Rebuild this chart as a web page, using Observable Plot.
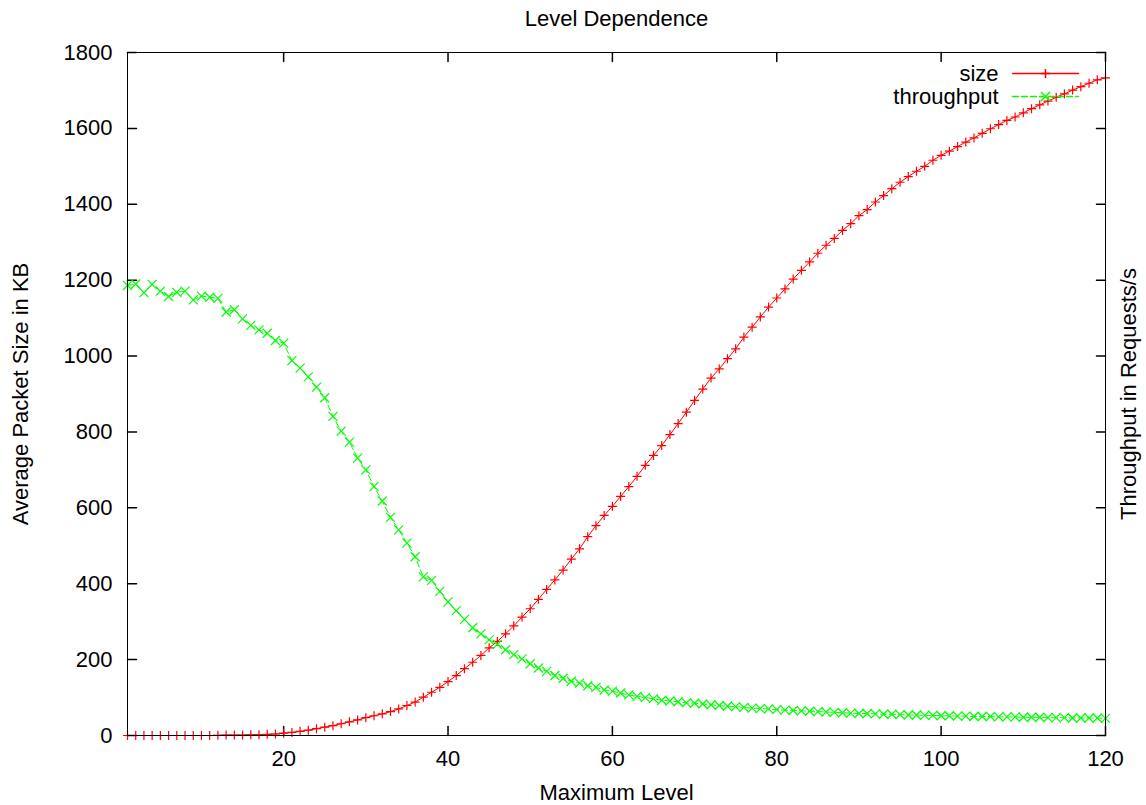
<!DOCTYPE html>
<html><head><meta charset="utf-8">
<script src="https://cdn.jsdelivr.net/npm/d3@7"></script>
<script src="https://cdn.jsdelivr.net/npm/@observablehq/plot@0.6"></script>
<style>body{margin:0;background:#fff} svg{display:block}</style>
</head><body><div id="chart"></div>
<script>
const levels = [1,2,3,4,5,6,7,8,9,10,11,12,13,14,15,16,17,18,19,20,21,22,23,24,25,26,27,28,29,30,
31,32,33,34,35,36,37,38,39,40,41,42,43,44,45,46,47,48,49,50,51,52,53,54,55,56,57,58,59,60,
61,62,63,64,65,66,67,68,69,70,71,72,73,74,75,76,77,78,79,80,81,82,83,84,85,86,87,88,89,90,
91,92,93,94,95,96,97,98,99,100,101,102,103,104,105,106,107,108,109,110,111,112,113,114,115,116,117,118,119,120];

const sizeKB = [0,0,0,0,0,0,0,0,0,0,0,0.5,1,1,1,2,2,3,4,6,
8,11,14,18,22,26,31,36,41,47,52,57,63,70,79,88,101,114,127,142,
158,176,193,211,231,248,268,289,312,334,359,385,410,436,465,492,524,553,580,604,
630,656,683,712,738,764,793,822,852,883,913,942,966,993,1019,1050,1076,1103,1129,1153,
1177,1203,1226,1248,1271,1292,1310,1331,1349,1370,1386,1406,1423,1441,1458,1473,1487,1500,1516,1529,
1540,1552,1564,1575,1587,1599,1610,1621,1630,1641,1652,1662,1672,1682,1691,1701,1710,1719,1728,1733];

const throughput = [1186,1190,1167,1189,1171,1157,1168,1171,1148,1158,1155,1152,1116,1122,1098,1081,1069,1060,1041,1034,
988,968,945,918,890,841,802,773,731,700,656,618,575,542,507,471,418,409,380,352,
329,306,284,268,252,240,226,213,202,189,178,169,158,151,143,138,131,127,120,117,
112,107,103,100,97,93,91,89,86,85,83,81,79,77,76,74,72,71,70,68,
67,66,65,64,63,62,61,60,59,58,58,57,56,56,55,54,54,53,53,52,
52,51,51,50,50,50,49,49,49,48,48,48,47,47,47,46,46,46,46,45];

const xTicks = [20,40,60,80,100,120];
const yTicks = [0,200,400,600,800,1000,1200,1400,1600,1800];
const seriesNames = ["size","throughput"];
const titleText = "Level Dependence";
const xLabel = "Maximum Level";
const yLabel = "Average Packet Size in KB";
const y2Label = "Throughput in Requests/s";

const rows = levels.map((l,i)=>({level:l, size:sizeKB[i], throughput:throughput[i]}));

const RED = "#ff0000", GREEN = "#00ff00";
const plusSym = {draw(c){const r=4.5; c.moveTo(-r,0);c.lineTo(r,0);c.moveTo(0,-r);c.lineTo(0,r);}};
const timesSym = {draw(c){const r=4.5; c.moveTo(-r,-r);c.lineTo(r,r);c.moveTo(-r,r);c.lineTo(r,-r);}};
const tickShape = {draw(c,l){c.moveTo(0,0); c.lineTo(0,-l);}};
const lineShape = {draw(c,l){c.moveTo(0,0); c.lineTo(0,-l);}};
const TL = 9;
const FONT = "Liberation Sans, Arial, Helvetica, sans-serif";

const chart = Plot.plot({
  width: 1146, height: 805,
  marginLeft: 127, marginRight: 41, marginTop: 52, marginBottom: 70,
  style: {fontFamily: FONT, fontSize: "22px", background: "#fff", color: "#000"},
  x: {domain: [1,120]},
  y: {domain: [0,1800]},
  marks: [
    Plot.axisX({ticks: xTicks, tickSize: 0, tickPadding: 15, tickFormat: d3.format("d"), label: null}),
    Plot.axisY({ticks: yTicks, tickSize: 0, tickPadding: 15, tickFormat: d3.format("d"), label: null}),
    // inward ticks on all four sides
    Plot.vector(xTicks, {x: d=>d, y: 0, length: TL, rotate: 0, anchor: "start", shape: tickShape, stroke: "#000"}),
    Plot.vector(xTicks, {x: d=>d, y: 1800, length: TL, rotate: 180, anchor: "start", shape: tickShape, stroke: "#000"}),
    Plot.vector(yTicks, {x: 1, y: d=>d, length: TL, rotate: 90, anchor: "start", shape: tickShape, stroke: "#000"}),
    Plot.vector(yTicks, {x: 120, y: d=>d, length: TL, rotate: -90, anchor: "start", shape: tickShape, stroke: "#000"}),
    // series
    Plot.line(rows, {x: "level", y: "size", stroke: RED, strokeWidth: 1}),
    Plot.dot(rows, {x: "level", y: "size", symbol: plusSym, stroke: RED, fill: "none", strokeWidth: 1.2}),
    Plot.line(rows, {x: "level", y: "throughput", stroke: GREEN, strokeWidth: 1, strokeDasharray: "6,3"}),
    Plot.dot(rows, {x: "level", y: "throughput", symbol: timesSym, stroke: GREEN, fill: "none", strokeWidth: 1.2}),
    Plot.frame({stroke: "#000", strokeWidth: 1}),
    // legend
    Plot.text([seriesNames[0]], {frameAnchor: "top-right", textAnchor: "end", lineAnchor: "middle", dx: -107, dy: 21, fontSize: 22}),
    Plot.vector([seriesNames[0]], {frameAnchor: "top-right", dx: -93, dy: 21, length: 66, rotate: 90, anchor: "start", shape: lineShape, stroke: RED}),
    Plot.dot([seriesNames[0]], {frameAnchor: "top-right", dx: -60, dy: 21, symbol: plusSym, stroke: RED, fill: "none"}),
    Plot.text([seriesNames[1]], {frameAnchor: "top-right", textAnchor: "end", lineAnchor: "middle", dx: -107, dy: 44, fontSize: 22}),
    Plot.vector([seriesNames[1]], {frameAnchor: "top-right", dx: -93, dy: 44, length: 66, rotate: 90, anchor: "start", shape: lineShape, stroke: GREEN, strokeDasharray: "6,3"}),
    Plot.dot([seriesNames[1]], {frameAnchor: "top-right", dx: -60, dy: 44, symbol: timesSym, stroke: GREEN, fill: "none"}),
    // titles
    Plot.text([titleText], {frameAnchor: "top", lineAnchor: "bottom", dy: -27, fontSize: 22}),
    Plot.text([xLabel], {frameAnchor: "bottom", lineAnchor: "bottom", dy: 64, fontSize: 22}),
    Plot.text([yLabel], {frameAnchor: "left", rotate: -90, textAnchor: "middle", lineAnchor: "middle", dx: -107, fontSize: 22}),
    Plot.text([y2Label], {frameAnchor: "right", rotate: -90, textAnchor: "middle", lineAnchor: "middle", dx: 23, fontSize: 22})
  ]
});
document.getElementById("chart").appendChild(chart);
</script>
</body></html>
